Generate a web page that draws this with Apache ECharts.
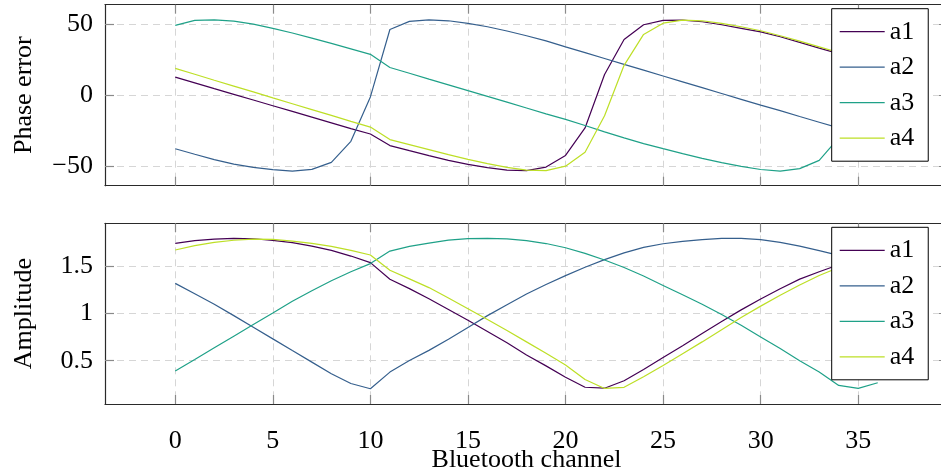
<!DOCTYPE html>
<html>
<head>
<meta charset="utf-8">
<script src="https://cdn.jsdelivr.net/npm/echarts@6/dist/echarts.min.js"></script>
<style>
html,body{margin:0;padding:0;background:#fff;}
#chart{width:941px;height:474px;}
</style>
</head>
<body>
<div id="chart"></div>
<script>
// ---------- data ----------
const channels = [0,1,2,3,4,5,6,7,8,9,10,11,12,13,14,15,16,17,18,19,20,21,22,23,24,25,26,27,28,29,30,31,32,33,34,35,36];
const seriesNames = ['a1','a2','a3','a4'];

const phaseA1 = [12.7,8.7,4.6,0.6,-3.4,-7.4,-11.4,-15.4,-19.4,-23.5,-27.3,-35.4,-39.0,-42.5,-45.8,-48.6,-50.9,-52.6,-53.0,-50.5,-42.3,-23.0,14.5,39.2,49.5,52.6,52.8,51.6,49.5,47.0,44.5,41.1,37.1,33.1,29.2,25.3,21.4];
const phaseA2 = [-37.6,-41.5,-45.3,-48.4,-50.7,-52.3,-53.3,-52.1,-47.2,-32.4,-1.2,46.2,51.9,53.0,52.3,50.5,48.1,45.1,41.8,38.2,34.0,29.9,25.8,21.7,17.6,13.5,9.4,5.3,1.2,-2.9,-7.0,-10.8,-15.0,-19.0,-23.0,-27.0,-31.0];
const phaseA3 = [49.1,52.6,53.0,52.1,50.0,47.0,43.7,40.1,36.4,32.6,28.7,19.5,15.4,11.3,7.3,3.2,-0.8,-4.9,-9.0,-13.1,-17.0,-21.3,-25.8,-30.0,-34.0,-37.6,-41.1,-44.4,-47.4,-50.0,-52.2,-53.3,-51.6,-45.8,-30.0,0.0,30.0];
const phaseA4 = [18.8,14.7,10.5,6.4,2.3,-1.9,-6.0,-10.1,-14.2,-18.4,-22.4,-31.2,-34.7,-38.2,-41.8,-45.1,-48.1,-50.7,-52.6,-53.0,-49.9,-40.1,-14.5,21.0,42.7,50.6,52.8,52.3,50.5,48.1,45.3,41.8,38.0,34.0,30.0,26.0,22.0];

const ampA1 = [1.747,1.775,1.792,1.800,1.796,1.779,1.754,1.718,1.673,1.612,1.542,1.365,1.266,1.158,1.045,0.930,0.810,0.690,0.560,0.445,0.325,0.218,0.208,0.287,0.407,0.535,0.660,0.790,0.917,1.040,1.155,1.265,1.367,1.445,1.520,1.590,1.650];
const ampA2 = [1.322,1.212,1.100,0.979,0.856,0.732,0.608,0.485,0.361,0.258,0.202,0.379,0.502,0.610,0.727,0.854,0.979,1.095,1.209,1.309,1.404,1.493,1.574,1.646,1.705,1.743,1.768,1.786,1.800,1.800,1.786,1.757,1.718,1.669,1.620,1.560,1.490];
const ampA3 = [0.390,0.513,0.637,0.761,0.884,1.007,1.131,1.244,1.350,1.445,1.532,1.665,1.715,1.750,1.781,1.797,1.800,1.795,1.775,1.745,1.700,1.640,1.570,1.490,1.400,1.300,1.200,1.100,0.990,0.877,0.753,0.629,0.500,0.380,0.237,0.206,0.266];
const ampA4 = [1.676,1.723,1.757,1.780,1.792,1.789,1.771,1.747,1.715,1.673,1.623,1.461,1.369,1.277,1.166,1.053,0.937,0.820,0.700,0.580,0.455,0.300,0.205,0.217,0.330,0.450,0.575,0.700,0.830,0.960,1.080,1.195,1.305,1.405,1.490,1.570,1.630];

const xTicks = [0,5,10,15,20,25,30,35];
const phaseTicks = [-50,0,50];
const ampTicks = [0.5,1,1.5];

// ---------- style ----------
const colors = ['#440154','#355f8d','#1fa188','#bddf26'];
const FONT = 'Liberation Serif';
const FS = 26;

const phaseData = [phaseA1, phaseA2, phaseA3, phaseA4];
const ampData = [ampA1, ampA2, ampA3, ampA4];

const X_MIN = -3.6, X_MAX = 39.6;
const P_MIN = -63.6, P_MAX = 63.6;
const A_MIN = 0.04, A_MAX = 1.96;

const frameLine = {show:true, onZero:false, lineStyle:{color:'#2a2a2a', width:1.2}};
const tickStyle = {show:true, inside:true, length:9, lineStyle:{color:'#8a8a8a', width:1.2}};
const gridLine = {show:true, lineStyle:{color:'#d6d6d6', width:1, type:[7,5]}};
const fmtMinus = v => String(v).replace('-', '\u2212');

function xAx(gridIndex, position, labels) {
  return {
    type:'value', gridIndex, position, min:X_MIN, max:X_MAX,
    axisLine: frameLine,
    axisTick: Object.assign({customValues:xTicks}, tickStyle),
    axisLabel: labels ? {show:true, customValues:xTicks, margin:24, fontFamily:FONT, fontSize:FS, color:'#000'} : {show:false},
    splitLine: position === 'bottom' ? gridLine : {show:false},
    name: labels ? 'Bluetooth channel' : '',
    nameLocation:'middle', nameGap:43, nameMoveOverlap:false,
    nameTextStyle:{fontFamily:FONT, fontSize:FS, color:'#000'}
  };
}
function yAx(gridIndex, position, min, max, ticks, name) {
  const left = position === 'left';
  return {
    type:'value', gridIndex, position, min, max,
    axisLine: frameLine,
    axisTick: Object.assign({customValues:ticks}, tickStyle),
    axisLabel: left ? {show:true, customValues:ticks, margin:12, fontFamily:FONT, fontSize:FS, color:'#000', formatter:fmtMinus} : {show:false},
    splitLine: left ? gridLine : {show:false},
    name: left ? name : '',
    nameLocation:'middle', nameGap:68, nameRotate:90, nameMoveOverlap:false,
    nameTextStyle:{fontFamily:FONT, fontSize:FS, color:'#000'}
  };
}

const series = [];
seriesNames.forEach((nm, i) => {
  series.push({
    name:nm, type:'line', xAxisIndex:0, yAxisIndex:0, symbol:'none', silent:true,
    lineStyle:{color:colors[i], width:1.2}, itemStyle:{color:colors[i]},
    data: channels.map((c, k) => [c, phaseData[i][k]])
  });
});
seriesNames.forEach((nm, i) => {
  series.push({
    name:nm, type:'line', xAxisIndex:2, yAxisIndex:2, symbol:'none', silent:true,
    lineStyle:{color:colors[i], width:1.2}, itemStyle:{color:colors[i]},
    data: channels.map((c, k) => [c, ampData[i][k]])
  });
});

function legend(top) {
  return {
    orient:'vertical', left:831.7, top:top,
    data: seriesNames,
    icon:'path://M0,0 L45,0 L45,1.3 L0,1.3 Z',
    itemWidth:45, itemHeight:14, itemGap:9.5,
    padding:[10,14,10,8],
    borderColor:'#000', borderWidth:1, backgroundColor:'#fff',
    textStyle:{fontFamily:FONT, fontSize:FS, color:'#000', lineHeight:22},
    selectedMode:false
  };
}

const option = {
  animation:false,
  textStyle:{fontFamily:FONT},
  grid:[
    {left:105, top:4.7, width:843, height:181, outerBoundsMode:'none', containLabel:false},
    {left:105, top:223.3, width:843, height:180.7, outerBoundsMode:'none', containLabel:false}
  ],
  xAxis:[xAx(0,'bottom',false), xAx(0,'top',false), xAx(1,'bottom',true), xAx(1,'top',false)],
  yAxis:[
    yAx(0,'left',P_MIN,P_MAX,phaseTicks,'Phase error'),
    yAx(0,'right',P_MIN,P_MAX,phaseTicks,''),
    yAx(1,'left',A_MIN,A_MAX,ampTicks,'Amplitude'),
    yAx(1,'right',A_MIN,A_MAX,ampTicks,'')
  ],
  legend:[legend(8.7), legend(227.3)],
  series
};

const chart = echarts.init(document.getElementById('chart'), null, {renderer:'canvas'});
chart.setOption(option);
</script>
</body>
</html>
